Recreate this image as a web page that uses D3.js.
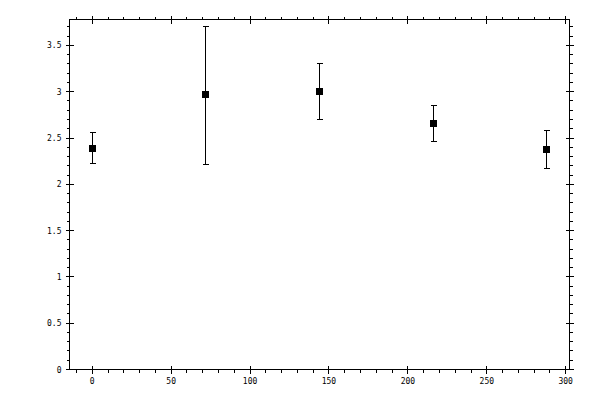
<!DOCTYPE html>
<html>
<head>
<meta charset="utf-8">
<script src="https://cdn.jsdelivr.net/npm/d3@7"></script>
<style>
  body { margin: 0; background: #fff; }
  svg { display: block; }
  .tick-label { font-family: "DejaVu Sans Mono", monospace; font-size: 8px; fill: #000; }
</style>
</head>
<body>
<svg id="chart" width="600" height="400"></svg>
<script>
/************
** data
*************/
var xValues = [0, 72, 144, 216, 288];
var yValues = [2.385, 2.965, 3.005, 2.66, 2.38];
var yLower = [2.225, 2.215, 2.705, 2.465, 2.175];
var yUpper = [2.56, 3.70, 3.31, 2.855, 2.585];
var xMajorTicks = [0, 50, 100, 150, 200, 250, 300];
var yMajorTicks = [0, 0.5, 1, 1.5, 2, 2.5, 3, 3.5];
var yTickLabels = ["0", "0.5", "1", "1.5", "2", "2.5", "3", "3.5"];

/************
** scales
*************/
var svg = d3.select('#chart');
var plotLeft = 69.5, plotRight = 569.5, plotTop = 19.5, plotBottom = 369.5;

var x = d3.scaleLinear().domain([-14.4, 302.4]).range([plotLeft, plotRight]);
var y = d3.scaleLinear().domain([0, 3.78]).range([plotBottom, plotTop]);

var xMinor = d3.range(-10, 301, 10);
var yMinor = d3.range(0, 38).map(function(i){ return i / 10; });

var g = svg.append('g')
    .attr('stroke', '#000')
    .attr('stroke-width', 1)
    .attr('shape-rendering', 'crispEdges');

// frame
g.append('rect')
    .attr('x', plotLeft).attr('y', plotTop)
    .attr('width', plotRight - plotLeft).attr('height', plotBottom - plotTop)
    .attr('fill', 'none');

function px(v) { return Math.round(v - 0.5) + 0.5; }

// minor ticks (outward)
xMinor.forEach(function(t){
    var xp = px(x(t));
    g.append('line').attr('x1', xp).attr('x2', xp).attr('y1', plotBottom).attr('y2', plotBottom + 3);
    g.append('line').attr('x1', xp).attr('x2', xp).attr('y1', plotTop).attr('y2', plotTop - 3);
});
yMinor.forEach(function(t){
    var yp = px(y(t));
    g.append('line').attr('y1', yp).attr('y2', yp).attr('x1', plotLeft).attr('x2', plotLeft - 3);
    g.append('line').attr('y1', yp).attr('y2', yp).attr('x1', plotRight).attr('x2', plotRight + 3);
});

// major ticks (crossing)
xMajorTicks.forEach(function(t){
    var xp = px(x(t));
    g.append('line').attr('x1', xp).attr('x2', xp).attr('y1', plotBottom - 4).attr('y2', plotBottom + 4);
    g.append('line').attr('x1', xp).attr('x2', xp).attr('y1', plotTop - 4).attr('y2', plotTop + 4);
});
yMajorTicks.forEach(function(t){
    var yp = px(y(t));
    g.append('line').attr('y1', yp).attr('y2', yp).attr('x1', plotLeft - 4).attr('x2', plotLeft + 4);
    g.append('line').attr('y1', yp).attr('y2', yp).attr('x1', plotRight - 4).attr('x2', plotRight + 4);
});

// tick labels
svg.selectAll('.xl').data(xMajorTicks).enter().append('text')
    .attr('class', 'tick-label')
    .attr('x', function(d){ return x(d); })
    .attr('y', plotBottom + 14)
    .attr('text-anchor', 'middle')
    .text(function(d){ return d; });

svg.selectAll('.yl').data(yMajorTicks).enter().append('text')
    .attr('class', 'tick-label')
    .attr('x', plotLeft - 8)
    .attr('y', function(d){ return y(d) + 3; })
    .attr('text-anchor', 'end')
    .text(function(d, i){ return yTickLabels[i]; });

/************
** error bars + points
*************/
var pts = svg.append('g').attr('stroke', '#000').attr('shape-rendering', 'crispEdges');
xValues.forEach(function(xv, i){
    var xp = px(x(xv));
    var yt = px(y(yUpper[i])), yb = px(y(yLower[i]));
    pts.append('line').attr('x1', xp).attr('x2', xp).attr('y1', yt).attr('y2', yb);
    pts.append('line').attr('x1', xp - 3).attr('x2', xp + 3).attr('y1', yt).attr('y2', yt);
    pts.append('line').attr('x1', xp - 3).attr('x2', xp + 3).attr('y1', yb).attr('y2', yb);
    pts.append('rect')
        .attr('x', xp - 4).attr('y', px(y(yValues[i])) - 4)
        .attr('width', 7).attr('height', 7)
        .attr('fill', '#000').attr('stroke', 'none');
});
</script>
</body>
</html>
